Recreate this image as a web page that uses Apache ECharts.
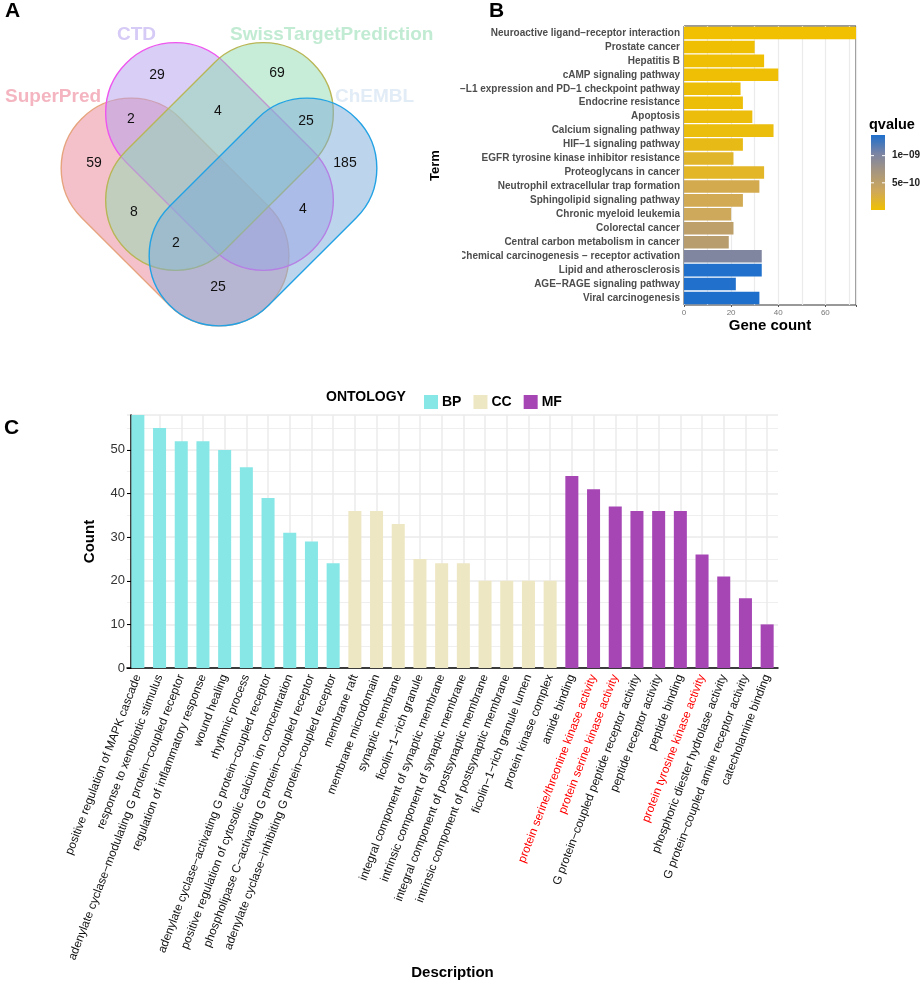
<!DOCTYPE html>
<html>
<head>
<meta charset="utf-8">
<script src="https://cdn.jsdelivr.net/npm/echarts@6/dist/echarts.min.js"></script>
<style>
html,body{margin:0;padding:0;background:#fff;}
#chart{width:920px;height:984px;}
</style>
</head>
<body>
<div id="chart"></div>
<script>
// ---------- Panel A data (Venn) ----------
const vennSets = ['SuperPred', 'CTD', 'SwissTargetPrediction', 'ChEMBL'];
const vennCounts = [29, 69, 2, 4, 25, 59, 185, 8, 4, 2, 25];

// ---------- Panel B data (KEGG) ----------
const keggTerms = [
  'Neuroactive ligand−receptor interaction', 'Prostate cancer', 'Hepatitis B',
  'cAMP signaling pathway', 'PD−L1 expression and PD−1 checkpoint pathway',
  'Endocrine resistance', 'Apoptosis', 'Calcium signaling pathway',
  'HIF−1 signaling pathway', 'EGFR tyrosine kinase inhibitor resistance',
  'Proteoglycans in cancer', 'Neutrophil extracellular trap formation',
  'Sphingolipid signaling pathway', 'Chronic myeloid leukemia', 'Colorectal cancer',
  'Central carbon metabolism in cancer', 'Chemical carcinogenesis − receptor activation',
  'Lipid and atherosclerosis', 'AGE−RAGE signaling pathway', 'Viral carcinogenesis'
];
const keggCounts = [73, 30, 34, 40, 24, 25, 29, 38, 25, 21, 34, 32, 25, 20, 21, 19, 33, 33, 22, 32];
const keggQvalues = [2e-12, 1e-11, 1.5e-11, 2e-11, 3e-11, 3e-11, 4e-11, 5e-11, 8e-11, 1.6e-10,
  1.5e-10, 3.0e-10, 3.2e-10, 3.5e-10, 5.0e-10, 5.5e-10, 1.0e-9, 1.37e-9, 1.37e-9, 1.38e-9];
const qTicks = [5e-10, 1e-9];
const qTickLabels = ['5e−10', '1e−09'];

// ---------- Panel C data (GO) ----------
const bpTerms = ['positive regulation of MAPK cascade', 'response to xenobiotic stimulus',
  'adenylate cyclase−modulating G protein−coupled receptor', 'regulation of inflammatory response',
  'wound healing', 'rhythmic process', 'adenylate cyclase−activating G protein−coupled receptor',
  'positive regulation of cytosolic calcium ion concentration',
  'phospholipase C−activating G protein−coupled receptor',
  'adenylate cyclase−inhibiting G protein−coupled receptor'];
const bpCounts = [58, 55, 52, 52, 50, 46, 39, 31, 29, 24];
const ccTerms = ['membrane raft', 'membrane microdomain', 'synaptic membrane', 'ficolin−1−rich granule',
  'integral component of synaptic membrane', 'intrinsic component of synaptic membrane',
  'integral component of postsynaptic membrane', 'intrinsic component of postsynaptic membrane',
  'ficolin−1−rich granule lumen', 'protein kinase complex'];
const ccCounts = [36, 36, 33, 25, 24, 24, 20, 20, 20, 20];
const mfTerms = ['amide binding', 'protein serine/threonine kinase activity', 'protein serine kinase activity',
  'G protein−coupled peptide receptor activity', 'peptide receptor activity', 'peptide binding',
  'protein tyrosine kinase activity', 'phosphoric diester hydrolase activity',
  'G protein−coupled amine receptor activity', 'catecholamine binding'];
const mfCounts = [44, 41, 37, 36, 36, 36, 26, 21, 16, 10];
const highlightTerms = ['protein serine/threonine kinase activity', 'protein serine kinase activity',
  'protein tyrosine kinase activity'];
const countTicks = [0, 10, 20, 30, 40, 50];

// ---------- styles / layout ----------
const FONT = 'Liberation Sans, Arial, Helvetica, sans-serif';
const qColors = ['#F0C000', '#CFA85A', '#A8977E', '#7B84A3', '#1E6FCC'];
const ontoColors = { BP: '#87E6E6', CC: '#EEE7C3', MF: '#A646B5' };

const chart = echarts.init(document.getElementById('chart'), null, { renderer: 'canvas' });

// Venn shapes (layout)
const vennShapes = [
  { cx: 175, cy: 212, rot: -Math.PI / 4, fill: 'rgba(234,131,151,0.5)', stroke: '#E6A47E' },
  { cx: 219.5, cy: 156.5, rot: -Math.PI / 4, fill: 'rgba(179,158,238,0.5)', stroke: '#EE55EE' },
  { cx: 219.5, cy: 156.5, rot: Math.PI / 4, fill: 'rgba(143,219,177,0.5)', stroke: '#B8B656' },
  { cx: 263, cy: 212, rot: Math.PI / 4, fill: 'rgba(123,171,217,0.5)', stroke: '#22A2E4' }
];
const vennTitleLayout = [
  { x: 5, y: 97, color: '#F4B5C1' },
  { x: 117, y: 35, color: '#D6CAF6' },
  { x: 230, y: 35, color: '#C2EBD3' },
  { x: 335, y: 97, color: '#E2ECF7' }
];
const vennCountPos = [[157, 75], [277, 73], [131, 119], [218, 111], [306, 121], [94, 163],
  [345, 163], [134, 212], [303, 209], [176, 243], [218, 287]];

const graphics = [];
vennShapes.forEach(s => {
  graphics.push({
    type: 'rect', x: s.cx, y: s.cy, rotation: s.rot, z: 1,
    shape: { x: -132, y: -70, width: 264, height: 140, r: 70 },
    style: { fill: s.fill, stroke: s.stroke, lineWidth: 1.4 }
  });
});
vennSets.forEach((name, i) => {
  const t = vennTitleLayout[i];
  graphics.push({
    type: 'text', x: t.x, y: t.y, z: 2,
    style: { text: name, fill: t.color, font: 'bold 19px ' + FONT, textVerticalAlign: 'middle' }
  });
});
vennCounts.forEach((v, i) => {
  graphics.push({
    type: 'text', x: vennCountPos[i][0], y: vennCountPos[i][1], z: 3,
    style: { text: String(v), fill: '#111', font: '14px ' + FONT, textAlign: 'center', textVerticalAlign: 'middle' }
  });
});
// panel letters
[['A', 5, 11], ['B', 489, 11], ['C', 4, 428]].forEach(p => {
  graphics.push({ type: 'text', x: p[1], y: p[2], z: 5,
    style: { text: p[0], fill: '#000', font: 'bold 21px ' + FONT, textVerticalAlign: 'middle' } });
});
// mask to mimic cropped panel B labels
graphics.push({ type: 'rect', x: 420, y: 80, z: 100, shape: { width: 40, height: 13 }, style: { fill: '#fff' } });
graphics.push({ type: 'rect', x: 420, y: 250, z: 100, shape: { width: 42, height: 13 }, style: { fill: '#fff' } });

// qvalue colorbar
const qMin = 0, qMax = 1.38e-9;
const cb = { x: 871, y: 135, w: 14, h: 75 };
graphics.push({ type: 'text', x: 869, y: 125, z: 5,
  style: { text: 'qvalue', fill: '#000', font: 'bold 14.5px ' + FONT, textVerticalAlign: 'middle' } });
graphics.push({
  type: 'rect', x: cb.x, y: cb.y, z: 5, shape: { width: cb.w, height: cb.h },
  style: { fill: new echarts.graphic.LinearGradient(0, 1, 0, 0,
    qColors.map((c, i) => ({ offset: i / (qColors.length - 1), color: c }))) }
});
qTicks.forEach((q, i) => {
  const yy = cb.y + cb.h - (q - qMin) / (qMax - qMin) * cb.h;
  graphics.push({ type: 'line', z: 6, shape: { x1: cb.x, y1: yy, x2: cb.x + 3, y2: yy }, style: { stroke: '#fff', lineWidth: 1 } });
  graphics.push({ type: 'line', z: 6, shape: { x1: cb.x + cb.w - 3, y1: yy, x2: cb.x + cb.w, y2: yy }, style: { stroke: '#fff', lineWidth: 1 } });
  graphics.push({ type: 'text', x: 892, y: yy, z: 6,
    style: { text: qTickLabels[i], fill: '#222', font: 'bold 10px ' + FONT, textVerticalAlign: 'middle' } });
});
// ONTOLOGY legend title
graphics.push({ type: 'text', x: 326, y: 397, z: 5,
  style: { text: 'ONTOLOGY', fill: '#000', font: 'bold 14px ' + FONT, textVerticalAlign: 'middle' } });

// GO category axis data
const goTerms = bpTerms.concat(ccTerms, mfTerms);
const goAxisData = goTerms.map(t => highlightTerms.includes(t)
  ? { value: t, textStyle: { color: '#FF0000' } } : t);
const pad = n => new Array(n).fill('-');
const bpData = bpCounts.concat(pad(20));
const ccData = pad(10).concat(ccCounts, pad(10));
const mfData = pad(20).concat(mfCounts);

const keggData = keggTerms.map((t, i) => [keggCounts[i], t, keggQvalues[i]]);

const option = {
  animation: false,
  textStyle: { fontFamily: FONT },
  grid: [
    { left: 684, top: 26, width: 172, height: 279, show: true, borderColor: '#333', borderWidth: 1, backgroundColor: 'transparent' },
    { left: 127, top: 415, width: 651, height: 253 }
  ],
  legend: {
    data: ['BP', 'CC', 'MF'], left: 419, top: 390, itemWidth: 14, itemHeight: 14, itemGap: 12,
    icon: 'rect', textStyle: { fontWeight: 'bold', fontSize: 14, color: '#000', fontFamily: FONT, padding: [0, 0, 0, -1] }
  },
  visualMap: {
    show: false, type: 'continuous', seriesIndex: 0, dimension: 2, min: qMin, max: qMax,
    inRange: { color: qColors }
  },
  xAxis: [
    { gridIndex: 0, type: 'value', min: 0, max: 73, interval: 20,
      name: 'Gene count', nameLocation: 'middle', nameGap: 12,
      nameTextStyle: { fontWeight: 'bold', fontSize: 15, color: '#000' },
      axisLine: { show: false }, axisTick: { show: true, length: 2, lineStyle: { color: '#555' } },
      axisLabel: { fontSize: 8, color: '#777', margin: 4, formatter: v => (v % 20 === 0 ? String(v) : '') },
      splitLine: { show: false } },
    { gridIndex: 0, type: 'value', min: 0, max: 73, interval: 10,
      axisLine: { show: false }, axisTick: { show: false }, axisLabel: { show: false },
      splitLine: { show: true, lineStyle: { color: '#EBEBEB', width: 1.2 } } },
    { gridIndex: 1, type: 'category', data: goAxisData,
      name: 'Description', nameLocation: 'middle', nameGap: 277,
      nameTextStyle: { fontWeight: 'bold', fontSize: 15, color: '#000' },
      axisLine: { lineStyle: { color: '#000', width: 1.5 } },
      axisTick: { alignWithLabel: true, length: 4, lineStyle: { color: '#000', width: 1 } },
      axisLabel: { interval: 0, rotate: 69, fontSize: 11.8, color: '#111', margin: 7 },
      splitLine: { show: false } }
  ],
  yAxis: [
    { gridIndex: 0, type: 'category', data: keggTerms, inverse: true,
      name: 'Term', nameLocation: 'middle', nameGap: 236, nameRotate: 90,
      nameTextStyle: { fontWeight: 'bold', fontSize: 13, color: '#000' },
      axisLine: { show: false }, axisTick: { alignWithLabel: true, length: 2, lineStyle: { color: '#333' } },
      axisLabel: { fontSize: 10, fontWeight: 'bold', color: '#4D4D4D', margin: 4 },
      splitLine: { show: false } },
    { gridIndex: 1, type: 'value', min: 0, max: 58, interval: 10, offset: -4,
      name: 'Count', nameLocation: 'middle', nameGap: 34, nameRotate: 90,
      nameTextStyle: { fontWeight: 'bold', fontSize: 15, color: '#000' },
      axisLine: { show: true, lineStyle: { color: '#000', width: 1.5 } },
      axisTick: { show: true, length: 4, lineStyle: { color: '#000' } },
      axisLabel: { fontSize: 13, color: '#333', margin: 6, showMaxLabel: false,
        formatter: v => (countTicks.includes(v) ? String(v) : '') },
      splitLine: { show: true, lineStyle: { color: '#EBEBEB', width: 1.5 } } },
    { gridIndex: 1, type: 'value', min: 0, max: 58, interval: 5,
      axisLine: { show: false }, axisTick: { show: false }, axisLabel: { show: false },
      splitLine: { show: true, lineStyle: { color: '#EFEFEF', width: 1.2 } } }
  ],
  series: [
    { type: 'bar', name: 'KEGG', xAxisIndex: 0, yAxisIndex: 0, data: keggData,
      encode: { x: 0, y: 1 }, barCategoryGap: '10%', z: 3 },
    { type: 'bar', name: 'BP', xAxisIndex: 2, yAxisIndex: 1, stack: 'go', data: bpData,
      barWidth: '60%', itemStyle: { color: ontoColors.BP }, z: 6 },
    { type: 'bar', name: 'CC', xAxisIndex: 2, yAxisIndex: 1, stack: 'go', data: ccData,
      barWidth: '60%', itemStyle: { color: ontoColors.CC }, z: 6 },
    { type: 'bar', name: 'MF', xAxisIndex: 2, yAxisIndex: 1, stack: 'go', data: mfData,
      barWidth: '60%', itemStyle: { color: ontoColors.MF }, z: 6 },
    { type: 'line', name: 'grid-x', xAxisIndex: 2, yAxisIndex: 1, data: [], z: 1, silent: true,
      markLine: { silent: true, z: 1, symbol: 'none', animation: false, label: { show: false },
        lineStyle: { color: '#EBEBEB', width: 1.5, type: 'solid' },
        emphasis: { disabled: true },
        data: goTerms.map(t => ({ xAxis: t })) } }
  ],
  graphic: { elements: graphics }
};
chart.setOption(option);
</script>
</body>
</html>
